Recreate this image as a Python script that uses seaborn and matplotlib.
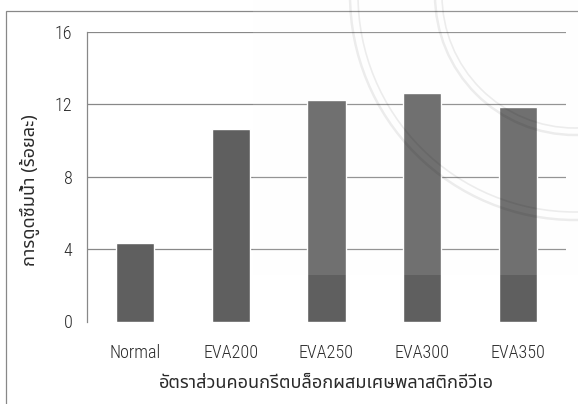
import matplotlib
matplotlib.use("Agg")
import matplotlib.pyplot as plt
import matplotlib.patches as mpatches
import matplotlib.transforms as mtransforms
import seaborn as sns
import pandas as pd

# Water absorption of concrete blocks mixed with EVA plastic waste
categories = ["Normal", "EVA200", "EVA250", "EVA300", "EVA350"]
absorption = [4.35, 10.63, 12.24, 12.62, 11.87]
y_ticks = [0, 4, 8, 12, 16]
x_title = "อัตราส่วนคอนกรีตบล็อกผสมเศษพลาสติกอีวีเอ"
y_title = "การดูดซึมน้ำ (ร้อยละ)"

sns.set_theme(style="white")
latin = ["Roboto Condensed", "IBM Plex Sans Condensed", "Liberation Sans Narrow",
         "Noto Sans Thai", "DejaVu Sans"]
thai = ["Noto Sans Thai", "DejaVu Sans"]
plt.rcParams["font.family"] = latin
plt.rcParams["font.weight"] = "light"

W, H = 578, 404
fig = plt.figure(figsize=(W / 100, H / 100), dpi=100)
fig.patch.set_facecolor("white")

# plot area in pixel terms
left, right, top, bottom = 87, 566, 32, 321.5
ax = fig.add_axes([left / W, (H - bottom) / H, (right - left) / W, (bottom - top) / H])

df = pd.DataFrame({"group": categories, "value": absorption})
sns.barplot(data=df, x="group", y="value", order=categories, color="#5f5f5f",
            saturation=1, width=0.4, ax=ax, zorder=3)

grid_c = "#888888"
text_c = "#2a2a2a"
ax.set_ylim(y_ticks[0], y_ticks[-1])
ax.set_xlim(-0.5, len(categories) - 0.5)
ax.set_yticks(y_ticks)
for t in y_ticks[1:]:
    ax.axhline(t, color=grid_c, lw=0.9, zorder=1)

for s in ["top", "right", "bottom"]:
    ax.spines[s].set_visible(False)
ax.spines["left"].set_color(grid_c)
ax.spines["left"].set_linewidth(0.9)

# category labels at centres, tick marks at category boundaries
ax.set_xticks(range(len(categories)))
ax.set_xticklabels(categories)
ax.set_xticks([i - 0.5 for i in range(len(categories) + 1)], minor=True)
ax.tick_params(axis="x", which="major", length=0, pad=16, labelsize=13, labelcolor=text_c)
ax.tick_params(axis="x", which="minor", length=4.5, width=0.9, color=grid_c, direction="out")
ax.tick_params(axis="y", which="major", length=4.5, width=0.9, color=grid_c,
               direction="out", pad=6, labelsize=13, labelcolor=text_c)
ax.set_xlabel(x_title, fontsize=13, family=thai, color=text_c, fontweight="light")
ax.set_ylabel(y_title, fontsize=13, family=thai, color=text_c, fontweight="light")
ax.xaxis.set_label_coords(0.5, -(383 - bottom) / (bottom - top))
ax.xaxis.label.set_va("center")
ax.yaxis.set_label_coords(-(left - 30) / (right - left), (bottom - 190) / (bottom - top))
ax.yaxis.label.set_va("center")

px = mtransforms.IdentityTransform()

# outer chart frame (continues past the right and bottom edges)
fig.add_artist(mpatches.Rectangle((6, -200), 2000, 200 + H - 11, transform=px,
                                  fill=False, edgecolor=grid_c, lw=0.9))

# faint seal watermark over the upper-right part
wm = mpatches.Rectangle((253, H - 275), W - 253 + 50, 300, transform=px,
                        facecolor="#fafafa", alpha=0.11, edgecolor="none", zorder=10)
fig.add_artist(wm)
for r, lw in [(225, 1.8), (217, 1.2), (140, 1.8), (133, 1.2)]:
    ring = mpatches.Circle((575, H + 5), r, transform=px, fill=False,
                           edgecolor="black", alpha=0.07, lw=lw, zorder=11)
    fig.add_artist(ring)
    ring.set_clip_path(wm)

fig.savefig("out.png", dpi=100, facecolor="white")
